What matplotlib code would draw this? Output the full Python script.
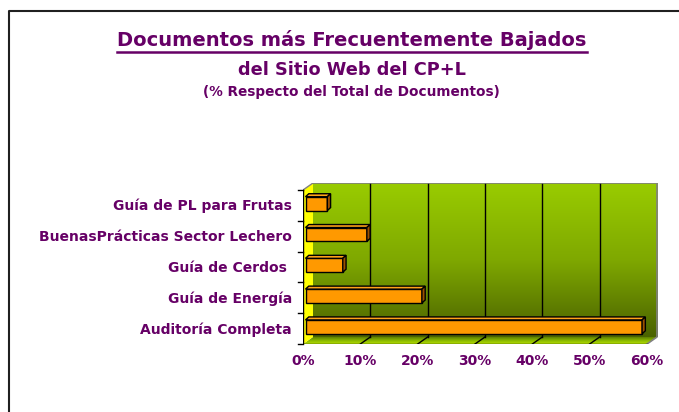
import matplotlib
matplotlib.use("Agg")
import matplotlib.pyplot as plt
import numpy as np
from matplotlib.colors import LinearSegmentedColormap
from matplotlib.lines import Line2D
from matplotlib.patches import Polygon
from matplotlib.transforms import IdentityTransform

# datos (de abajo hacia arriba)
categorias = ["Auditoría Completa", "Guía de Energía", "Guía de Cerdos ",
              "BuenasPrácticas Sector Lechero", "Guía de PL para Frutas"]
porcentajes = [58.7, 20.3, 6.5, 10.7, 3.8]
ticks_x = [0, 10, 20, 30, 40, 50, 60]
etiquetas_x = ["0%", "10%", "20%", "30%", "40%", "50%", "60%"]

titulo = "Documentos más Frecuentemente Bajados"
subtitulo = "del Sitio Web del CP+L"
nota = "(% Respecto del Total de Documentos)"

MORADO = "#660066"
NARANJA = "#FF9900"
W, H = 679, 412

fig = plt.figure(figsize=(W / 100, H / 100), dpi=100)
fig.patch.set_facecolor("white")

# ejes: desde la esquina frontal-izquierda hasta la pared del fondo
ax = fig.add_axes([303 / W, 1 - 344 / H, 355 / W, 161 / H])
ax.set_xlim(0, 60 * 355 / 344)
ax.set_ylim(-0.5, -0.5 + 5 * 161 / 154)
ax.axis("off")


def px2data(dxp, dyp):
    x0, y0 = ax.transData.transform((0, 0))
    return tuple(ax.transData.inverted().transform((x0 + dxp, y0 + dyp)))


DX, DY = px2data(10, 7)      # profundidad de las paredes
y0, y1 = -0.5, len(categorias) - 0.5
xmax = ticks_x[-1]

# pared del fondo con degradado
cm_pared = LinearSegmentedColormap.from_list("pared", ["#4A6200", "#7FA800", "#99CC00"])
grad = np.linspace(0, 1, 256).reshape(-1, 1)
ax.imshow(grad, cmap=cm_pared, origin="lower", aspect="auto",
          extent=[DX, xmax + DX, y0 + DY, y1 + DY], zorder=0)

# piso con degradado
piso = Polygon([(0, y0), (xmax, y0), (xmax + DX, y0 + DY), (DX, y0 + DY)],
               closed=True, facecolor="none", edgecolor="none")
ax.add_patch(piso)
cm_piso = LinearSegmentedColormap.from_list("piso", ["#B5E000", "#8AB800", "#5E8000"])
img = ax.imshow(grad, cmap=cm_piso, origin="lower", aspect="auto",
                extent=[0, xmax + DX, y0, y0 + DY], zorder=0.5)
img.set_clip_path(piso)

# pared lateral amarilla
ax.add_patch(Polygon([(0, y0), (DX, y0 + DY), (DX, y1 + DY), (0, y1)],
                     closed=True, facecolor="#FFFF00", edgecolor="none", zorder=1))

# lineas de division
for t in ticks_x[1:-1]:
    ax.plot([t + DX, t + DX], [y0 + DY, y1 + DY], color="black", lw=1, zorder=1)
    ax.plot([t, t + DX], [y0, y0 + DY], color="black", lw=1, zorder=1)

# bordes
ax.plot([DX, xmax + DX, xmax + DX, xmax], [y1 + DY, y1 + DY, y0 + DY, y0],
        color="#808080", lw=1.2, zorder=1)
ax.plot([0, DX], [y1, y1 + DY], color="#808080", lw=1, zorder=1)
ax.plot([0, 0, xmax], [y1, y0, y0], color="black", lw=1, zorder=3)
for c in np.arange(y0, y1 + 0.5, 1):
    ax.plot([px2data(-5, 0)[0], 0], [c, c], color="black", lw=1,
            clip_on=False, zorder=3)

# barras 3D
bx, by = px2data(2.5, 1.75)
ddx, ddy = px2data(3.3, 3)
alto = 0.45
pos = np.arange(len(categorias))
ax.barh(pos + by, porcentajes, left=bx, height=alto, color=NARANJA,
        edgecolor="black", lw=1, zorder=4)
for p, v in zip(pos, porcentajes):
    arriba = p + by + alto / 2
    abajo = p + by - alto / 2
    fin = bx + v
    ax.add_patch(Polygon([(bx, arriba), (fin, arriba), (fin + ddx, arriba + ddy),
                          (bx + ddx, arriba + ddy)], closed=True,
                         facecolor="#FFA31A", edgecolor="black", lw=1, zorder=4))
    ax.add_patch(Polygon([(fin, abajo), (fin + ddx, abajo + ddy),
                          (fin + ddx, arriba + ddy), (fin, arriba)], closed=True,
                         facecolor="#9A5000", edgecolor="black", lw=1, zorder=4))

# textos
px = IdentityTransform()
kw = dict(color=MORADO, fontweight="bold", family="DejaVu Sans", transform=px)

t = fig.text(352, H - 46.5, titulo, fontsize=14, ha="center", va="baseline", **kw)
fig.text(352, H - 75, subtitulo, fontsize=12.8, ha="center", va="baseline", **kw)
fig.text(351, H - 96, nota, fontsize=9.8, ha="center", va="baseline", **kw)

for p, nombre in zip(pos, categorias):
    yp = ax.transData.transform((0, p))[1]
    fig.text(292, yp - 5, nombre, fontsize=10, ha="right", va="baseline", **kw)

for tx, lab in zip(ticks_x, etiquetas_x):
    xp = ax.transData.transform((tx, 0))[0]
    fig.text(xp, H - 365, lab, fontsize=10, ha="center", va="baseline", **kw)

# subrayado del titulo
r = fig.canvas.get_renderer()
bb = t.get_window_extent(renderer=r)
fig.add_artist(Line2D([bb.x0, bb.x1], [H - 52, H - 52], color=MORADO, lw=1.8,
                      transform=px))

# marco exterior (cortado a la derecha y abajo)
fig.add_artist(Line2D([8.5, 8.5, W + 5], [-5, H - 10.5, H - 10.5],
                      color="#202020", lw=1.5, transform=px))

fig.savefig("out.png", dpi=100)
